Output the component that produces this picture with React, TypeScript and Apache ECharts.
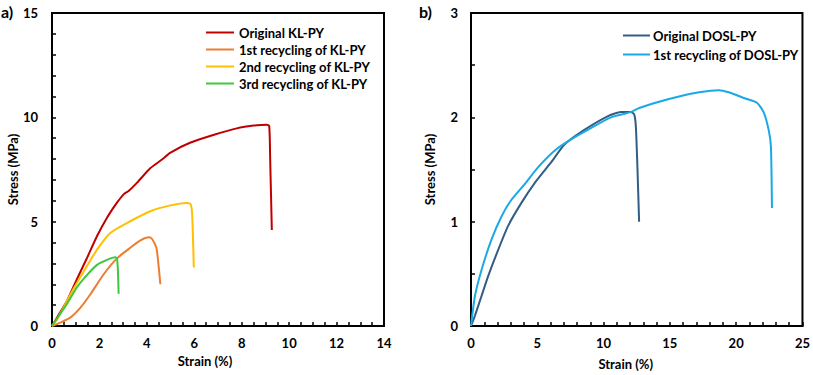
import React, { useEffect, useRef } from "react";
import * as echarts from "echarts";

// ---- Data (strain %, stress MPa) ----
const klOriginal: [number, number][] = [
  [0, 0], [0.21, 0.4], [0.63, 1.2], [1.05, 2.24], [1.48, 3.27], [1.9, 4.31],
  [2.32, 5.19], [2.74, 5.91], [3.02, 6.31], [3.23, 6.47], [3.59, 6.87],
  [4.13, 7.55], [4.64, 7.98], [4.98, 8.3], [5.82, 8.78], [6.8, 9.15],
  [7.79, 9.47], [8.63, 9.62], [9.05, 9.65], [9.16, 9.58], [9.2, 8.0], [9.27, 4.6],
];
const klRecycle1: [number, number][] = [
  [0, 0], [0.35, 0.16], [0.77, 0.4], [1.2, 0.88], [1.62, 1.52], [2.18, 2.48],
  [2.74, 3.24], [3.3, 3.75], [3.73, 4.1], [4.08, 4.25], [4.22, 4.17],
  [4.4, 3.75], [4.46, 3.27], [4.57, 2.0],
];
const klRecycle2: [number, number][] = [
  [0, 0], [0.21, 0.3], [0.77, 1.5], [1.34, 2.62], [1.9, 3.66], [2.46, 4.46],
  [3.3, 5.02], [4.15, 5.5], [4.99, 5.78], [5.69, 5.9], [5.84, 5.85],
  [5.91, 5.35], [5.98, 2.8],
];
const klRecycle3: [number, number][] = [
  [0, 0], [0.21, 0.36], [0.63, 1.06], [1.05, 1.85], [1.48, 2.45], [1.9, 2.93],
  [2.32, 3.17], [2.67, 3.29], [2.74, 3.24], [2.78, 2.64], [2.81, 1.55],
];
const doslOriginal: [number, number][] = [
  [0, 0], [0.3, 0.1], [0.8, 0.29], [1.3, 0.48], [2.05, 0.73], [2.8, 0.96],
  [3.8, 1.18], [4.8, 1.37], [6.05, 1.57], [7.05, 1.74], [8.55, 1.88],
  [10.3, 2.01], [11.3, 2.05], [12.05, 2.05], [12.3, 2.03], [12.43, 1.92],
  [12.55, 1.53], [12.68, 1.0],
];
const doslRecycle1: [number, number][] = [
  [0, 0], [0.3, 0.29], [0.8, 0.54], [1.55, 0.83], [2.3, 1.05], [3.05, 1.21],
  [4.05, 1.36], [5.05, 1.52], [6.3, 1.68], [7.3, 1.77], [8.8, 1.88],
  [10.55, 2.0], [12.05, 2.05], [12.69, 2.09], [14.19, 2.15], [15.69, 2.2],
  [17.19, 2.24], [18.69, 2.26], [19.44, 2.24], [20.7, 2.18], [21.57, 2.14],
  [22.07, 2.05], [22.45, 1.88], [22.62, 1.72], [22.7, 1.13],
];

const leftNames = [
  "Original KL-PY",
  "1st recycling of KL-PY",
  "2nd recycling of KL-PY",
  "3rd recycling of KL-PY",
];
const rightNames = ["Original DOSL-PY", "1st recycling of DOSL-PY"];
const leftColors = ["#C00000", "#ED7D31", "#FFC000", "#3FC83F"];
const rightColors = ["#325D85", "#19A9E6"];

const FONT = "Lato, 'Open Sans', sans-serif";

const tickStyle = { color: "#000", width: 1.5 };
const labelStyle = (margin: number) => ({
  color: "#000", fontWeight: "bold", fontSize: 13, fontFamily: FONT, margin,
});

function axis(extra: any) {
  return {
    type: "value",
    axisLine: { show: true, onZero: false, lineStyle: { color: "#000", width: 2 } },
    axisTick: { show: true, inside: true, length: 4, lineStyle: tickStyle },
    splitLine: { show: false },
    nameLocation: "middle",
    ...extra,
  };
}

export default function App() {
  const ref = useRef<HTMLDivElement>(null);
  useEffect(() => {
    if (!ref.current) return;
    const chart = echarts.init(ref.current, undefined, { renderer: "svg" });
    const mk = (name: string, data: [number, number][], color: string, idx: number) => ({
      type: "line",
      name,
      data,
      xAxisIndex: idx,
      yAxisIndex: idx,
      showSymbol: false,
      symbol: "none",
      smooth: 0.2,
      lineStyle: { color, width: 2 },
      itemStyle: { color },
    });
    const legendText = { color: "#000", fontWeight: "bold", fontSize: 13, fontFamily: FONT, lineHeight: 15 };
    chart.setOption({
      animation: false,
      grid: [
        { left: 52, top: 13, width: 332, height: 313, show: true, borderColor: "#000", borderWidth: 2, backgroundColor: "transparent" },
        { left: 471, top: 13, width: 333, height: 313, show: true, borderColor: "#000", borderWidth: 2, backgroundColor: "transparent" },
      ],
      xAxis: [
        axis({
          gridIndex: 0, min: 0, max: 14, interval: 2,
          minorTick: { show: true, splitNumber: 4, length: 4, lineStyle: tickStyle },
          name: "Strain (%)", nameGap: 28,
          nameTextStyle: { color: "#000", fontWeight: "bold", fontSize: 13, fontFamily: FONT, padding: [0, 26, 0, 0] },
          axisLabel: labelStyle(10),
        }),
        axis({
          gridIndex: 1, min: 0, max: 25, interval: 5,
          minorTick: { show: true, splitNumber: 5, length: 4, lineStyle: tickStyle },
          name: "Strain (%)", nameGap: 31,
          nameTextStyle: { color: "#000", fontWeight: "bold", fontSize: 13, fontFamily: FONT, padding: [0, 22, 0, 0] },
          axisLabel: labelStyle(10),
        }),
      ],
      yAxis: [
        axis({
          gridIndex: 0, min: 0, max: 15, interval: 5,
          minorTick: { show: true, splitNumber: 5, length: 4, lineStyle: tickStyle },
          name: "Stress (MPa)", nameGap: 33,
          nameTextStyle: { color: "#000", fontWeight: "bold", fontSize: 13, fontFamily: FONT },
          axisLabel: labelStyle(14),
        }),
        axis({
          gridIndex: 1, min: 0, max: 3, interval: 1,
          minorTick: { show: true, splitNumber: 2, length: 4, lineStyle: tickStyle },
          name: "Stress (MPa)", nameGap: 35,
          nameTextStyle: { color: "#000", fontWeight: "bold", fontSize: 13, fontFamily: FONT },
          axisLabel: labelStyle(13),
        }),
      ],
      legend: [
        {
          data: leftNames.map((n) => ({ name: n, icon: "rect" })),
          orient: "vertical", left: 201, top: 20,
          itemWidth: 28, itemHeight: 2, itemGap: 2,
          textStyle: legendText,
        },
        {
          data: rightNames.map((n) => ({ name: n, icon: "rect" })),
          orient: "vertical", left: 618, top: 23,
          itemWidth: 27, itemHeight: 2, itemGap: 4,
          textStyle: { ...legendText, padding: [0, 0, 0, -2] },
        },
      ],
      graphic: [
        { type: "text", left: 1, top: 3, style: { text: "a)", fontSize: 16, fontWeight: "bold", fontFamily: FONT, fill: "#000" } },
        { type: "text", left: 419, top: 3, style: { text: "b)", fontSize: 16, fontWeight: "bold", fontFamily: FONT, fill: "#000" } },
      ],
      series: [
        mk(leftNames[0], klOriginal, leftColors[0], 0),
        mk(leftNames[1], klRecycle1, leftColors[1], 0),
        mk(leftNames[2], klRecycle2, leftColors[2], 0),
        mk(leftNames[3], klRecycle3, leftColors[3], 0),
        mk(rightNames[0], doslOriginal, rightColors[0], 1),
        mk(rightNames[1], doslRecycle1, rightColors[1], 1),
      ],
    });
    return () => chart.dispose();
  }, []);
  return (
    <div
      ref={ref}
      style={{ position: "fixed", left: 0, top: 0, width: 813, height: 375, background: "#fff" }}
    />
  );
}
